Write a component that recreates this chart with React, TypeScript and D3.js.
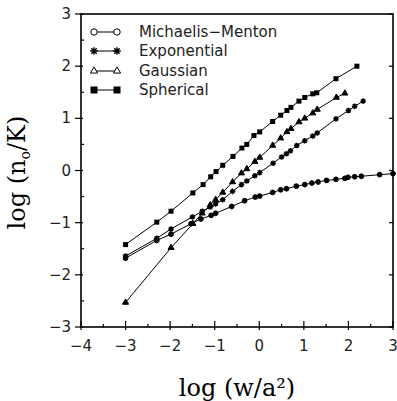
import { useEffect, useRef } from "react";
import * as d3 from "d3";

// Michaelis-Menton
const xMM = [-3, -2.3, -1.98, -1.53, -1.31, -1.08, -0.98, -0.62, -0.33, -0.09, 0.01, 0.3, 0.48, 0.61, 0.83, 1.02, 1.18, 1.32, 1.51, 1.72, 1.92, 1.99, 2.14, 2.29, 2.7, 3.0];
const yMM = [-1.68, -1.34, -1.22, -1.02, -0.93, -0.86, -0.82, -0.69, -0.58, -0.51, -0.49, -0.42, -0.37, -0.35, -0.3, -0.27, -0.24, -0.22, -0.19, -0.17, -0.15, -0.13, -0.12, -0.11, -0.08, -0.06];

// Exponential
const xExp = [-3, -2.3, -1.98, -1.5, -1.28, -1.1, -0.98, -0.82, -0.6, -0.4, -0.28, -0.1, 0.01, 0.31, 0.5, 0.61, 0.7, 0.84, 1.02, 1.2, 1.3, 1.72, 2.0, 2.14, 2.33];
const yExp = [-1.64, -1.3, -1.12, -0.89, -0.78, -0.7, -0.64, -0.56, -0.4, -0.27, -0.2, -0.1, -0.04, 0.14, 0.26, 0.32, 0.38, 0.48, 0.57, 0.66, 0.72, 0.99, 1.15, 1.23, 1.33];

// Gaussian
const xGau = [-3, -1.98, -1.49, -1.28, -1.1, -0.98, -0.82, -0.6, -0.4, -0.28, -0.1, 0.01, 0.3, 0.48, 0.62, 0.71, 0.89, 1.02, 1.2, 1.3, 1.73, 1.92];
const yGau = [-2.53, -1.48, -1.02, -0.82, -0.66, -0.56, -0.42, -0.22, -0.05, 0.03, 0.17, 0.25, 0.48, 0.62, 0.74, 0.8, 0.93, 1.0, 1.1, 1.17, 1.4, 1.48];

// Spherical
const xSph = [-3, -2.3, -1.98, -1.49, -1.26, -1.09, -0.97, -0.82, -0.59, -0.39, -0.28, -0.12, 0.01, 0.3, 0.48, 0.62, 0.71, 0.89, 1.02, 1.2, 1.29, 1.72, 2.19];
const ySph = [-1.42, -0.99, -0.78, -0.43, -0.27, -0.12, -0.02, 0.1, 0.27, 0.43, 0.5, 0.67, 0.74, 0.94, 1.06, 1.15, 1.21, 1.33, 1.4, 1.47, 1.49, 1.76, 2.0];

const xTicks = [-4, -3, -2, -1, 0, 1, 2, 3];
const yTicks = [-3, -2, -1, 0, 1, 2, 3];
const legendLabels = ["Michaelis\u2212Menton", "Exponential", "Gaussian", "Spherical"];

const W = 397;
const H = 401;

function Chart() {
    const ref = useRef<SVGSVGElement | null>(null);

    useEffect(() => {
        if (!ref.current) return;
        const svg = d3.select(ref.current);
        svg.selectAll("*").remove();

        const x = d3.scaleLinear().domain([-4, 3]).range([81, 393]);
        const y = d3.scaleLinear().domain([-3, 3]).range([327, 14]);
        const [x0, x1] = x.range();
        const [y0, y1] = y.range();

        const tickFont = "DejaVu Sans, sans-serif";

        // frame
        svg.append("rect")
            .attr("x", x0).attr("y", y1)
            .attr("width", x1 - x0).attr("height", y0 - y1)
            .attr("fill", "none").attr("stroke", "#000").attr("stroke-width", 1.6);

        const minorX = d3.range(-3.5, 3, 1);
        const minorY = d3.range(-2.5, 3, 1);
        const g = svg.append("g").attr("stroke", "#000").attr("stroke-width", 1.2);

        // bottom ticks
        xTicks.forEach((t) => {
            g.append("line").attr("x1", x(t)).attr("x2", x(t)).attr("y1", y0 + 3).attr("y2", y0 - 6);
        });
        minorX.forEach((t) => {
            g.append("line").attr("x1", x(t)).attr("x2", x(t)).attr("y1", y0).attr("y2", y0 - 3);
        });
        // left ticks
        yTicks.forEach((t) => {
            g.append("line").attr("x1", x0 - 6).attr("x2", x0 + 2).attr("y1", y(t)).attr("y2", y(t));
        });
        minorY.forEach((t) => {
            g.append("line").attr("x1", x0).attr("x2", x0 + 3).attr("y1", y(t)).attr("y2", y(t));
        });
        // right ticks
        yTicks.forEach((t) => {
            g.append("line").attr("x1", x1 - 4).attr("x2", x1).attr("y1", y(t)).attr("y2", y(t));
        });

        svg.append("g")
            .selectAll("text")
            .data(xTicks)
            .join("text")
            .attr("x", (d) => x(d))
            .attr("y", y0 + 24)
            .attr("text-anchor", "middle")
            .attr("font-family", tickFont)
            .attr("font-size", 15)
            .attr("fill", "#222")
            .text((d) => (d < 0 ? "\u2212" + Math.abs(d) : String(d)));

        svg.append("g")
            .selectAll("text")
            .data(yTicks)
            .join("text")
            .attr("x", x0 - 10)
            .attr("y", (d) => y(d) + 5)
            .attr("text-anchor", "end")
            .attr("font-family", tickFont)
            .attr("font-size", 15)
            .attr("fill", "#222")
            .text((d) => (d < 0 ? "\u2212" + Math.abs(d) : String(d)));

        // axis titles
        svg.append("text")
            .attr("x", 237).attr("y", 396)
            .attr("text-anchor", "middle")
            .attr("font-family", "DejaVu Serif, serif")
            .attr("font-size", 24)
            .text("log (w/a\u00b2)");

        const yt = svg.append("text")
            .attr("transform", `translate(25,${y(0) + 2}) rotate(-90)`)
            .attr("text-anchor", "middle")
            .attr("font-family", "DejaVu Serif, serif")
            .attr("font-size", 24);
        yt.append("tspan").text("log (n");
        yt.append("tspan").attr("font-size", 14).attr("dy", 5).text("o");
        yt.append("tspan").attr("dy", -5).text("/K)");

        // series
        const line = d3.line<[number, number]>().x((d) => x(d[0])).y((d) => y(d[1]));
        const series = [
            { xs: xMM, ys: yMM, kind: "circle" },
            { xs: xExp, ys: yExp, kind: "star" },
            { xs: xGau, ys: yGau, kind: "triangle" },
            { xs: xSph, ys: ySph, kind: "square" },
        ];

        const drawMarker = (sel: any, kind: string, cx: number, cy: number, legend: boolean) => {
            if (kind === "circle") {
                sel.append("circle").attr("cx", cx).attr("cy", cy).attr("r", legend ? 3.2 : 2.4)
                    .attr("fill", legend ? "#fff" : "#000").attr("stroke", "#000").attr("stroke-width", 1);
            } else if (kind === "star") {
                const r = legend ? 3.8 : 2.8;
                const p = d3.path();
                for (let k = 0; k < 4; k++) {
                    const a = (k * Math.PI) / 4;
                    p.moveTo(cx - r * Math.cos(a), cy - r * Math.sin(a));
                    p.lineTo(cx + r * Math.cos(a), cy + r * Math.sin(a));
                }
                sel.append("path").attr("d", p.toString()).attr("stroke", "#000").attr("stroke-width", 1.4).attr("fill", "none");
                if (!legend) sel.append("circle").attr("cx", cx).attr("cy", cy).attr("r", 1.6).attr("fill", "#000");
            } else if (kind === "triangle") {
                sel.append("path")
                    .attr("d", d3.symbol(d3.symbolTriangle, legend ? 22 : 16)())
                    .attr("transform", `translate(${cx},${cy})`)
                    .attr("fill", legend ? "#fff" : "#000").attr("stroke", "#000").attr("stroke-width", 1);
            } else {
                const s = legend ? 7 : 5;
                sel.append("rect").attr("x", cx - s / 2).attr("y", cy - s / 2).attr("width", s).attr("height", s).attr("fill", "#000");
            }
        };

        series.forEach((s) => {
            const pts = s.xs.map((v, i) => [v, s.ys[i]] as [number, number]);
            const sg = svg.append("g");
            sg.append("path").attr("d", line(pts)).attr("fill", "none").attr("stroke", "#000").attr("stroke-width", 1);
            pts.forEach((p) => drawMarker(sg, s.kind, x(p[0]), y(p[1]), false));
        });

        // legend
        const rowsY = [32, 51, 71, 90];
        series.forEach((s, i) => {
            const lg = svg.append("g");
            lg.append("line").attr("x1", 94).attr("x2", 117).attr("y1", rowsY[i]).attr("y2", rowsY[i])
                .attr("stroke", "#000").attr("stroke-width", 1);
            drawMarker(lg, s.kind, 94, rowsY[i], true);
            drawMarker(lg, s.kind, 117, rowsY[i], true);
            lg.append("text").attr("x", 139).attr("y", rowsY[i] + 5)
                .attr("font-family", tickFont).attr("font-size", 15)
                .attr("fill", "#222")
                .text(legendLabels[i]);
        });
    }, []);

    return <svg ref={ref} width={W} height={H} style={{ position: "absolute", left: 0, top: 0, background: "#fff" }} />;
}

export default function App() {
    return (
        <div>
            <Chart />
        </div>
    );
}
